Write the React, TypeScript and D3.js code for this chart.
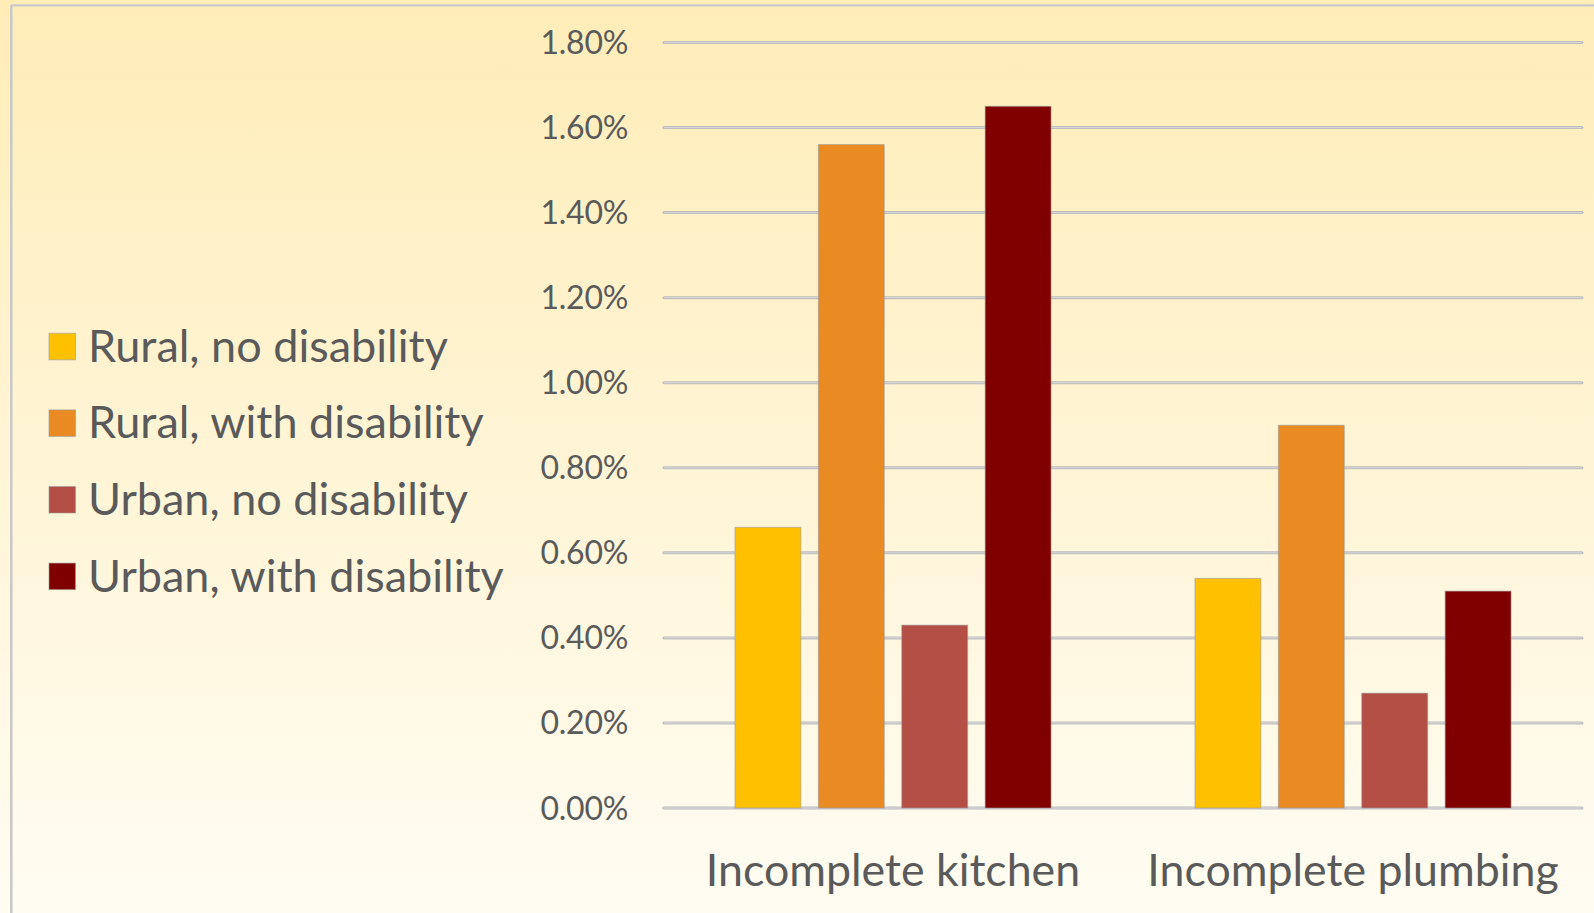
import React, { useEffect } from "react";
import * as d3 from "d3";

const categories = ["Incomplete kitchen", "Incomplete plumbing"];
const seriesNames = [
  "Rural, no disability",
  "Rural, with disability",
  "Urban, no disability",
  "Urban, with disability",
];
const ruralNoDisability = [0.0066, 0.0054];
const ruralWithDisability = [0.0156, 0.009];
const urbanNoDisability = [0.0043, 0.0027];
const urbanWithDisability = [0.0165, 0.0051];
const seriesValues = [ruralNoDisability, ruralWithDisability, urbanNoDisability, urbanWithDisability];
const seriesColors = ["#FFC000", "#E98A23", "#B44F45", "#800000"];
const yTickValues = [0, 0.002, 0.004, 0.006, 0.008, 0.01, 0.012, 0.014, 0.016, 0.018];

const W = 1594;
const H = 913;
const FONT = "Lato, 'Noto Sans', sans-serif";
const TEXT = "#5a5a5a";

export default function App() {
  useEffect(() => {
    document.body.style.margin = "0";
  }, []);

  const x0 = d3.scaleBand<string>().domain(categories).range([663, 1583]).padding(0);
  const x1 = d3
    .scaleBand<string>()
    .domain(seriesNames)
    .range([0, x0.bandwidth()])
    .paddingInner(0.21)
    .paddingOuter(0.863);
  const y = d3.scaleLinear().domain([0, 0.018]).range([808, 42.5]);
  const fmt = d3.format(".2%");

  return (
    <svg width={W} height={H} style={{ position: "absolute", left: 0, top: 0, display: "block" }}>
      <defs>
        <linearGradient id="bg" x1="0" y1="0" x2="0" y2="1">
          <stop offset="0" stopColor="#FFEDB8" />
          <stop offset="1" stopColor="#FFFCF2" />
        </linearGradient>
      </defs>
      <rect x={0} y={0} width={W} height={H} fill="url(#bg)" />
      <line x1={11.3} x2={W} y1={5.3} y2={5.3} stroke="#c9c9c9" strokeWidth={2.2} />
      <line x1={11.3} x2={11.3} y1={5.3} y2={H} stroke="#c9c9c9" strokeWidth={2.6} />

      {yTickValues.map((t) => (
        <g key={t}>
          <line x1={664} x2={1582} y1={y(t)} y2={y(t)} stroke="#bdbdbd" strokeWidth={3} strokeLinecap="round" />
          <line x1={664} x2={1582} y1={y(t)} y2={y(t)} stroke="#d9d9d9" strokeWidth={1} />
          <text
            x={628}
            y={y(t) + 11.5}
            textAnchor="end"
            fontFamily={FONT}
            fontSize={32}
            letterSpacing={-0.3}
            fill={TEXT}
          >
            {fmt(t)}
          </text>
        </g>
      ))}

      {categories.map((c, ci) => (
        <g key={c} transform={`translate(${x0(c)},0)`}>
          {seriesNames.map((s, si) => {
            const v = seriesValues[si][ci];
            return (
              <rect
                key={s}
                x={x1(s)}
                y={y(v)}
                width={x1.bandwidth()}
                height={y(0) - y(v)}
                fill={seriesColors[si]}
                stroke="#9a9a9a"
                strokeOpacity={0.6}
                strokeWidth={1}
              />
            );
          })}
          <text
            x={x0.bandwidth() / 2}
            y={885.7}
            textAnchor="middle"
            fontFamily={FONT}
            fontSize={44.7}
            fill={TEXT}
          >
            {c}
          </text>
        </g>
      ))}

      {seriesNames.map((s, si) => {
        const top = 333.3 + si * 76.6;
        return (
          <g key={s}>
            <rect x={49} y={top} width={26.5} height={26.5} fill={seriesColors[si]} stroke="#9a9a9a" strokeOpacity={0.6} strokeWidth={1} />
            <text x={88} y={top + 28.5} fontFamily={FONT} fontSize={45} fill={TEXT}>
              {s}
            </text>
          </g>
        );
      })}
    </svg>
  );
}
